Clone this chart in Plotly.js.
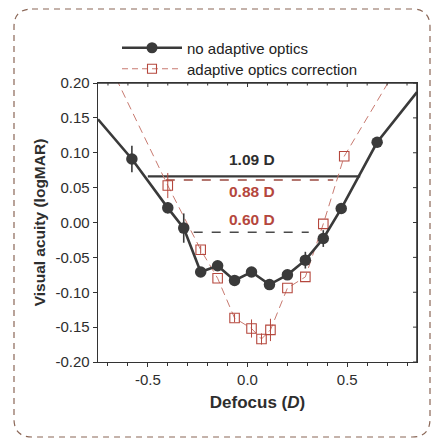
<!DOCTYPE html>
<html><head><meta charset="utf-8">
<script src="https://cdn.plot.ly/plotly-3.0.1.min.js"></script>
<style>html,body{margin:0;padding:0;background:#fff;}#chart{width:435px;height:443px;}</style>
</head><body><div id="chart"></div>
<script>
// Without adaptive optics (first and last entries are where the line meets the frame)
const noAOx = [-0.75, -0.58, -0.40, -0.32, -0.235, -0.15, -0.065, 0.02, 0.11, 0.20, 0.29, 0.38, 0.47, 0.65, 0.85];
const noAOy = [0.148, 0.091, 0.021, -0.008, -0.071, -0.062, -0.083, -0.071, -0.089, -0.075, -0.054, -0.023, 0.020, 0.115, 0.187];
const noAOerr = [0, 0.019, 0.008, 0.021, 0, 0, 0, 0, 0, 0, 0.012, 0.012, 0, 0, 0];
const noAOshown = [false, true, true, true, true, true, true, true, true, true, true, true, true, true, false];
// With adaptive optics correction (first and last entries lie above the plotted range)
const aoX = [-0.80, -0.40, -0.235, -0.15, -0.065, 0.02, 0.07, 0.115, 0.20, 0.29, 0.38, 0.485, 0.85];
const aoY = [0.29, 0.053, -0.039, -0.080, -0.137, -0.152, -0.167, -0.154, -0.094, -0.078, -0.002, 0.095, 0.27];
const aoErr = [0, 0.018, 0.006, 0, 0.006, 0.013, 0.008, 0.016, 0, 0, 0, 0, 0];
const aoShown = [false, true, true, true, true, true, true, true, true, true, true, true, false];
// Depth-of-focus bars
const dofLabels = ["1.09 D", "0.88 D", "0.60 D"];
const dofX0 = [-0.50, -0.41, -0.27];
const dofX1 = [0.565, 0.43, 0.307];
const dofY = [0.066, 0.061, -0.014];
const dofLabelY = [0.090, 0.045, 0.004];
// Axis ticks
const xTickVals = [-0.5, 0.0, 0.5];
const xTickText = ["-0.5", "0.0", "0.5"];
const xMinorVals = [-0.7, -0.6, -0.4, -0.3, -0.2, -0.1, 0.1, 0.2, 0.3, 0.4, 0.6, 0.7, 0.8];
const yTickVals = [-0.20, -0.15, -0.10, -0.05, 0.00, 0.05, 0.10, 0.15, 0.20];
const yTickText = ["-0.20", "-0.15", "-0.10", "-0.05", "0.00", "0.05", "0.10", "0.15", "0.20"];

const BLACK = '#3a3a3a';
const RED = '#b5473d';
const AXIS = '#333';
const FONT = 'Liberation Sans, Arial, sans-serif';

const W = 435, H = 443, L = 98, R = 18, T = 83, B = 81;
const pw = W - L - R, ph = H - T - B;
const px = v => (v - L) / pw;
const py = v => (H - B - v) / ph;

function pick(arr, mask) { return arr.filter((_, i) => mask[i]); }

const traces = [];
const dofStyles = [
  {color: BLACK, width: 2.2, dash: 'solid'},
  {color: '#9a4a40', width: 1.6, dash: 'dash'},
  {color: '#4a4a4a', width: 1.5, dash: 'dash'}
];
dofLabels.forEach((lab, i) => {
  traces.push({x: [dofX0[i], dofX1[i]], y: [dofY[i], dofY[i]], mode: 'lines', showlegend: false,
    hoverinfo: 'skip', line: dofStyles[i]});
});
traces.push({x: aoX, y: aoY, mode: 'lines', showlegend: false, hoverinfo: 'skip',
  line: {color: '#c87a70', width: 1, dash: '8px,5px'}});
traces.push({x: pick(aoX, aoShown), y: pick(aoY, aoShown), mode: 'markers', showlegend: false,
  marker: {opacity: 0, size: 1}, error_y: {type: 'data', array: pick(aoErr, aoShown), visible: true,
  color: RED, thickness: 1, width: 0}});
traces.push({x: pick(aoX, aoShown), y: pick(aoY, aoShown), mode: 'markers', showlegend: false,
  marker: {symbol: 'square-open', size: 9.5, color: RED, line: {width: 1.1, color: RED}}});
traces.push({x: pick(noAOx, noAOshown), y: pick(noAOy, noAOshown), mode: 'markers', showlegend: false,
  marker: {opacity: 0, size: 1}, error_y: {type: 'data', array: pick(noAOerr, noAOshown), visible: true,
  color: BLACK, thickness: 1.6, width: 0}});
traces.push({x: noAOx, y: noAOy, mode: 'lines', showlegend: false, hoverinfo: 'skip',
  line: {color: BLACK, width: 2.6}});
traces.push({x: pick(noAOx, noAOshown), y: pick(noAOy, noAOshown), mode: 'markers', showlegend: false,
  marker: {symbol: 'circle', size: 11.5, color: BLACK}});
traces.push({x: [null], y: [null], mode: 'lines+markers', name: 'no adaptive optics', legend: 'legend',
  line: {color: BLACK, width: 2.6}, marker: {symbol: 'circle', size: 11, color: BLACK}});
traces.push({x: [null], y: [null], mode: 'lines+markers', name: 'adaptive optics correction', legend: 'legend2',
  line: {color: '#c87a70', width: 1, dash: '6px,4px'},
  marker: {symbol: 'square-open', size: 9, color: RED, line: {width: 1.1, color: RED}}});

const annotations = dofLabels.map((lab, i) => ({
  x: 0.02, y: dofLabelY[i], xref: 'x', yref: 'y', text: '<b>' + lab + '</b>', showarrow: false,
  font: {family: FONT, size: 15.5, color: i === 0 ? '#2e2e2e' : RED}
}));

const r = 18, bl = 14, br = 430, bt = 9, bb = 437;
const frame = `M ${px(bl + r)},${py(bt)} L ${px(br - r)},${py(bt)} Q ${px(br)},${py(bt)} ${px(br)},${py(bt + r)} ` +
  `L ${px(br)},${py(bb - r)} Q ${px(br)},${py(bb)} ${px(br - r)},${py(bb)} L ${px(bl + r)},${py(bb)} ` +
  `Q ${px(bl)},${py(bb)} ${px(bl)},${py(bb - r)} L ${px(bl)},${py(bt + r)} Q ${px(bl)},${py(bt)} ${px(bl + r)},${py(bt)} Z`;

const shapes = [
  {type: 'path', xref: 'paper', yref: 'paper', path: frame, layer: 'below',
    line: {color: '#8a6656', width: 1.2, dash: '6px,5px'}},
  {type: 'line', xref: 'paper', yref: 'paper', x0: 0, x1: 1, y0: 1, y1: 1, layer: 'above',
    line: {color: AXIS, width: 1.6}},
  {type: 'line', xref: 'paper', yref: 'paper', x0: 1, x1: 1, y0: 0, y1: 1, layer: 'above',
    line: {color: AXIS, width: 1.6}}
];
// inward ticks on the top and right frame edges
xTickVals.forEach(v => shapes.push({type: 'line', xref: 'x', yref: 'paper', x0: v, x1: v, y0: 1, y1: 1 - 4 / ph,
  line: {color: AXIS, width: 1}}));
xMinorVals.forEach(v => shapes.push({type: 'line', xref: 'x', yref: 'paper', x0: v, x1: v, y0: 1, y1: 1 - 2.5 / ph,
  line: {color: AXIS, width: 1}}));
yTickVals.forEach(v => shapes.push({type: 'line', xref: 'paper', yref: 'y', x0: 1, x1: 1 - 4 / pw, y0: v, y1: v,
  line: {color: AXIS, width: 1}}));

const axisCommon = {
  showgrid: false, zeroline: false, showline: true, linecolor: AXIS, linewidth: 1.4,
  mirror: true, ticks: 'outside', ticklen: 4, tickcolor: AXIS, tickwidth: 1,
  tickfont: {family: FONT, size: 15, color: '#2e2e2e'}
};
const legendCommon = {xanchor: 'left', yanchor: 'middle', bgcolor: 'rgba(0,0,0,0)',
  font: {family: FONT, size: 15, color: '#222'}, itemwidth: 60};

const layout = {
  width: W, height: H,
  margin: {l: L, r: R, t: T, b: B},
  paper_bgcolor: '#fff', plot_bgcolor: '#fff',
  font: {family: FONT},
  showlegend: true,
  legend: Object.assign({}, legendCommon, {x: px(117), y: py(48)}),
  legend2: Object.assign({}, legendCommon, {x: px(117), y: py(69)}),
  xaxis: Object.assign({}, axisCommon, {
    range: [-0.75, 0.85], tickmode: 'array', tickvals: xTickVals, ticktext: xTickText,
    minor: {dtick: 0.1, tick0: 0, ticks: 'outside', ticklen: 2.5, tickcolor: AXIS},
    title: {text: '<b>Defocus (<i>D</i>)</b>', font: {family: FONT, size: 17, color: '#2e2e2e'}, standoff: 8}
  }),
  yaxis: Object.assign({}, axisCommon, {
    range: [-0.2, 0.2], tickmode: 'array', tickvals: yTickVals, ticktext: yTickText,
    title: {text: '<b>Visual acuity (logMAR)</b>', font: {family: FONT, size: 15.5, color: '#2e2e2e'}, standoff: 6}
  }),
  annotations: annotations,
  shapes: shapes
};

Plotly.newPlot('chart', traces, layout, {staticPlot: true, displayModeBar: false});
</script></body></html>
